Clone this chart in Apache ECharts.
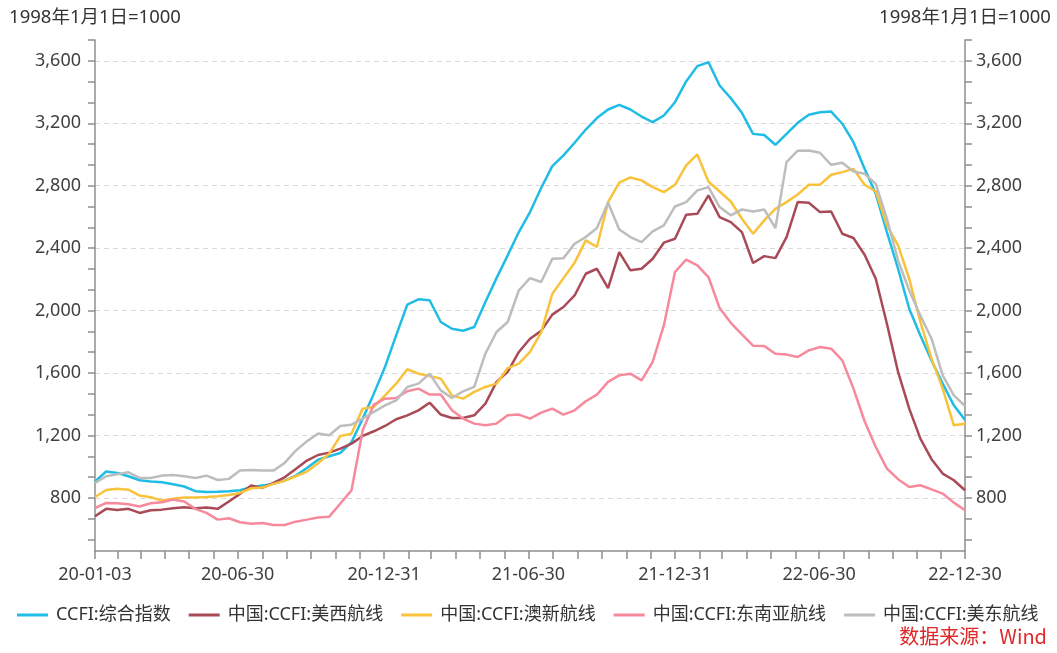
<!DOCTYPE html>
<html>
<head>
<meta charset="utf-8">
<script src="https://cdn.jsdelivr.net/npm/echarts@6/dist/echarts.min.js"></script>
<style>
  html, body { margin: 0; padding: 0; background: #fff; }
  #main { width: 1057px; height: 653px; }
</style>
</head>
<body>
<div id="main"></div>
<script>
// weekly index sampled every 2 weeks, 2020-01-03 .. 2022-12-30
const startDate = '2020-01-03';
const endDate = '2022-12-30';
const stepDays = 14;

const seriesNames = ['CCFI:综合指数', '中国:CCFI:美西航线', '中国:CCFI:澳新航线', '中国:CCFI:东南亚航线', '中国:CCFI:美东航线'];

const ccfi = [905, 969, 960, 939, 913, 905, 900, 887, 873, 843, 838, 840, 843, 849, 868, 879, 890, 911, 943, 992, 1045,
  1067, 1088, 1158, 1308, 1468, 1639, 1841, 2038, 2072, 2066, 1927, 1884, 1871, 1895, 2055, 2208, 2354, 2503, 2631, 2785,
  2925, 2994, 3075, 3160, 3233, 3288, 3318, 3288, 3243, 3207, 3250, 3335, 3468, 3566, 3591, 3442, 3361, 3267, 3132, 3125,
  3062, 3132, 3203, 3254, 3271, 3275, 3197, 3079, 2908, 2748, 2503, 2268, 2012, 1841, 1681, 1532, 1393, 1300];

const usWest = [683, 730, 723, 730, 704, 721, 725, 734, 740, 734, 738, 730, 777, 826, 879, 864, 896, 932, 986, 1039, 1075,
  1090, 1116, 1148, 1197, 1227, 1261, 1304, 1329, 1361, 1410, 1334, 1312, 1312, 1329, 1404, 1543, 1607, 1735, 1820, 1870,
  1974, 2023, 2097, 2236, 2268, 2144, 2375, 2258, 2268, 2332, 2435, 2460, 2614, 2620, 2738, 2599, 2567, 2503, 2305, 2349,
  2336, 2471, 2695, 2691, 2631, 2635, 2492, 2465, 2358, 2204, 1916, 1607, 1372, 1180, 1048, 956, 913, 849];

const ausNz = [806, 851, 858, 853, 815, 804, 783, 794, 802, 802, 806, 811, 819, 832, 862, 866, 890, 909, 939, 969, 1022,
  1084, 1197, 1212, 1372, 1383, 1457, 1532, 1624, 1596, 1581, 1564, 1457, 1436, 1479, 1511, 1532, 1632, 1660, 1735, 1860,
  2108, 2208, 2307, 2450, 2407, 2695, 2819, 2853, 2834, 2791, 2759, 2806, 2930, 3000, 2827, 2763, 2699, 2588, 2492, 2578,
  2652, 2695, 2744, 2806, 2806, 2870, 2887, 2908, 2806, 2763, 2546, 2418, 2204, 1927, 1692, 1500, 1265, 1275];

const seAsia = [734, 768, 766, 759, 745, 766, 772, 789, 777, 730, 704, 661, 670, 644, 634, 640, 627, 627, 648, 661, 675,
  680, 764, 849, 1233, 1398, 1436, 1440, 1483, 1500, 1462, 1462, 1361, 1308, 1276, 1265, 1276, 1329, 1334, 1308, 1346,
  1372, 1334, 1361, 1419, 1462, 1543, 1585, 1596, 1553, 1671, 1905, 2247, 2326, 2290, 2215, 2016, 1922, 1848, 1775, 1773,
  1724, 1718, 1703, 1745, 1767, 1756, 1681, 1500, 1291, 1126, 988, 920, 870, 881, 855, 828, 770, 721];

const usEast = [896, 939, 952, 964, 928, 928, 943, 947, 939, 928, 943, 915, 922, 975, 979, 975, 975, 1024, 1103, 1163, 1212,
  1201, 1261, 1269, 1308, 1351, 1393, 1425, 1511, 1532, 1596, 1489, 1440, 1483, 1511, 1724, 1863, 1927, 2129, 2208, 2183,
  2332, 2336, 2428, 2471, 2529, 2691, 2520, 2471, 2439, 2507, 2546, 2667, 2695, 2770, 2791, 2663, 2610, 2648, 2635, 2648,
  2529, 2951, 3024, 3026, 3011, 2934, 2947, 2891, 2876, 2812, 2588, 2322, 2129, 1969, 1820, 1585, 1457, 1389];

const xLabelDates = ['2020-01-03', '2020-06-30', '2020-12-31', '2021-06-30', '2021-12-31', '2022-06-30', '2022-12-30'];
const yLabelValues = [800, 1200, 1600, 2000, 2400, 2800, 3200, 3600];

const colors = ['#1fbde6', '#a94a57', '#f8c33a', '#f7899c', '#bdbdbd'];
const FONT = '"Noto Sans", "Noto Sans CJK SC", sans-serif';

const DAY = 86400000;
const toTime = s => Date.parse(s + 'T00:00:00Z');
const t0 = toTime(startDate);
const tEnd = toTime(endDate);
const dates = ccfi.map((_, i) => t0 + i * stepDays * DAY);
const pairs = arr => arr.map((v, i) => [dates[i], v]);

// ticks at each month end
const monthTicks = [t0];
for (let y = 2020; y <= 2022; y++) {
  for (let m = 1; m <= 12; m++) {
    const t = Date.UTC(y, m, 0);
    if (t < tEnd) monthTicks.push(t);
  }
}
monthTicks.push(tEnd);

const yMin = 460;
const yMax = 28 * 400 / 3;
const yTickValues = [];
for (let k = 4; k <= 28; k++) yTickValues.push(k * 400 / 3);

const pad = n => (n < 10 ? '0' : '') + n;
const fmtDate = v => {
  const d = new Date(v);
  return pad(d.getUTCFullYear() % 100) + '-' + pad(d.getUTCMonth() + 1) + '-' + pad(d.getUTCDate());
};

const axisColor = '#8f8f8f';
const labelStyle = { color: '#404040', fontSize: 18, fontFamily: FONT };

function valueAxis(pos, margin) {
  return {
    type: 'value',
    position: pos,
    min: yMin,
    max: yMax,
    name: '1998年1月1日=1000',
    nameLocation: 'end',
    nameGap: 13,
    nameTextStyle: { color: '#333', fontSize: 18.5, fontFamily: FONT },
    axisLine: { show: true, lineStyle: { color: axisColor, width: 1.5 } },
    axisTick: { show: true, length: 7, customValues: yTickValues, lineStyle: { color: axisColor, width: 1.5 } },
    axisLabel: Object.assign({ margin: margin, customValues: yLabelValues,
      formatter: v => Number(v).toLocaleString('en-US') }, labelStyle),
    splitLine: { show: false }
  };
}

const chart = echarts.init(document.getElementById('main'));
chart.setOption({
  animation: false,
  backgroundColor: '#fff',
  color: colors,
  grid: { left: 95, right: 92, top: 40, bottom: 102 },
  legend: {
    left: 17,
    top: 606,
    padding: 0,
    itemWidth: 31,
    itemHeight: 3,
    itemGap: 18,
    icon: 'rect',
    textStyle: { color: '#333', fontSize: 18, fontFamily: FONT, padding: [0, 0, 0, 3] },
    data: seriesNames
  },
  xAxis: {
    type: 'value',
    min: t0,
    max: tEnd,
    axisLine: { show: true, lineStyle: { color: axisColor, width: 1.5 } },
    axisTick: { show: true, length: 8, customValues: monthTicks, lineStyle: { color: axisColor, width: 1.5 } },
    axisLabel: Object.assign({ margin: 15, customValues: xLabelDates.map(toTime), formatter: fmtDate }, labelStyle),
    splitLine: { show: false }
  },
  yAxis: [
    valueAxis('left', 14),
    valueAxis('right', 11),
    {
      // gridlines only
      type: 'value',
      position: 'left',
      min: yMin,
      max: yMax,
      axisLine: { show: false },
      axisLabel: { show: false },
      axisTick: { show: false, customValues: yLabelValues },
      splitLine: { show: true, lineStyle: { color: '#d9d9d9', type: [5, 4], width: 1 } }
    }
  ],
  graphic: [{
    type: 'text',
    right: 10,
    top: 626,
    style: { text: '数据来源：Wind', fill: '#e02828', font: '20px "Noto Sans CJK SC", sans-serif' }
  }],
  series: [ccfi, usWest, ausNz, seAsia, usEast].map((arr, i) => ({
    name: seriesNames[i],
    type: 'line',
    showSymbol: false,
    symbol: 'none',
    lineStyle: { width: 2.5 },
    data: pairs(arr)
  }))
});
</script>
</body>
</html>
